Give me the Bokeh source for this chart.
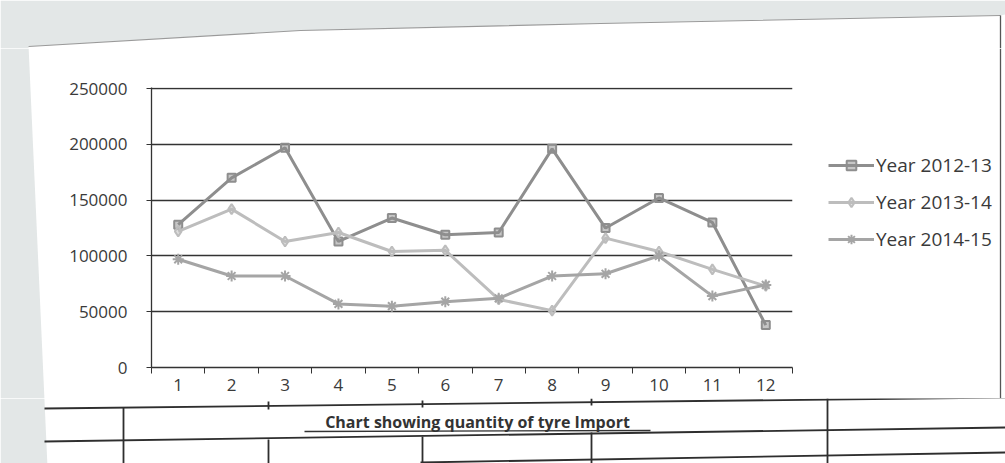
from bokeh.plotting import figure
from bokeh.models import (Range1d, FixedTicker, BasicTickFormatter, Legend, LegendItem)
from bokeh.layouts import column, row
from bokeh.embed import file_html
from bokeh.resources import INLINE
from bokeh.core.properties import value

# ---------------- data ----------------
months = [1, 2, 3, 4, 5, 6, 7, 8, 9, 10, 11, 12]
month_labels = ["1", "2", "3", "4", "5", "6", "7", "8", "9", "10", "11", "12"]
year_2012_13 = [128000, 170000, 197000, 113000, 134000, 119000, 121000, 196000, 125000, 152000, 130000, 38000]
year_2013_14 = [122000, 142000, 113000, 121000, 104000, 105000, 61000, 51000, 116000, 104000, 88000, 73000]
year_2014_15 = [97000, 82000, 82000, 57000, 55000, 59000, 62000, 82000, 84000, 100000, 64000, 74000]
series_names = ["Year 2012-13", "Year 2013-14", "Year 2014-15"]
y_ticks = [0, 50000, 100000, 150000, 200000, 250000]
chart_title = "Chart showing quantity of tyre Import"

# ---------------- styles ----------------
FONT = "Open Sans"
TXT = "#3a3a3a"
GRID = "#333333"
SCAN_BG = "#e3e7e7"
series_colors = ["#8e8e8e", "#bdbdbd", "#a5a5a5"]
series_markers = ["square", "diamond", "asterisk"]
series_sizes = [8, 10, 11]


def deco_fig(w, h, xr, yr):
    f = figure(width=w, height=h, x_range=Range1d(*xr), y_range=Range1d(*yr),
               output_backend="svg", toolbar_location=None,
               min_border_left=0, min_border_right=0, min_border_top=0, min_border_bottom=0)
    f.frame_align = False
    f.axis.visible = False
    f.grid.grid_line_color = None
    f.outline_line_color = None
    f.background_fill_color = "white"
    f.border_fill_color = "white"
    return f


def edge_x(y):
    # left edge of the scanned sheet
    return 26 + 0.045 * y


TOP_H, MID_BOTTOM = 48, 398

# ---------------- top strip (scan background) ----------------
top = deco_fig(1005, TOP_H, (0, 1005), (TOP_H, 0))
top.patch(x=[0, 1005, 1005, 1000, 600, 300, edge_x(46), edge_x(TOP_H), 0],
          y=[0, 0, 14, 15, 23, 30, 46, TOP_H, TOP_H],
          fill_color=SCAN_BG, line_color=None)
top.line(x=[edge_x(46), 300, 600, 1000], y=[46, 30, 23, 15], line_color="#9a9a9a", line_width=1.2)
top.segment(x0=[1000], y0=[15], x1=[1000], y1=[TOP_H], line_color="#555555", line_width=1.3)

# ---------------- left strip ----------------
LEFT_W = 45
left = deco_fig(LEFT_W, MID_BOTTOM - TOP_H, (0, LEFT_W), (MID_BOTTOM, TOP_H))
left.patch(x=[0, edge_x(TOP_H), edge_x(MID_BOTTOM), 0],
           y=[TOP_H, TOP_H, MID_BOTTOM, MID_BOTTOM],
           fill_color=SCAN_BG, line_color=None)

# ---------------- main chart ----------------
p = figure(width=816 - LEFT_W, height=MID_BOTTOM - TOP_H,
           x_range=Range1d(0.5, 12.5), y_range=Range1d(0, 251000),
           output_backend="svg", toolbar_location=None,
           min_border_left=151 - LEFT_W, min_border_right=24,
           min_border_top=87 - TOP_H, min_border_bottom=MID_BOTTOM - 367)
p.frame_align = False
p.outline_line_color = None
p.background_fill_color = "white"
p.border_fill_color = "white"

p.xaxis.ticker = FixedTicker(ticks=months, minor_ticks=[m - 0.5 for m in months] + [12.5])
p.xaxis.major_label_overrides = {m: lab for m, lab in zip(months, month_labels)}
p.xaxis.major_tick_line_color = None
p.xaxis.major_tick_out = 5
p.xaxis.major_tick_in = 0
p.xaxis.minor_tick_line_color = GRID
p.xaxis.minor_tick_out = 6
p.xaxis.minor_tick_in = 0
p.xaxis.major_label_standoff = 5
p.xaxis.axis_line_color = GRID
p.xaxis.axis_line_width = 1.3

p.yaxis.ticker = FixedTicker(ticks=y_ticks)
p.yaxis.formatter = BasicTickFormatter(use_scientific=False)
p.yaxis.major_tick_out = 5
p.yaxis.major_tick_in = 0
p.yaxis.major_tick_line_color = GRID
p.yaxis.minor_tick_line_color = None
p.yaxis.major_label_standoff = 19
p.yaxis.axis_line_color = GRID
p.yaxis.axis_line_width = 1.3

for ax in (p.xaxis, p.yaxis):
    ax.major_label_text_font = FONT
    ax.major_label_text_font_size = "17px"
    ax.major_label_text_color = TXT

p.xgrid.grid_line_color = None
p.ygrid.ticker = FixedTicker(ticks=y_ticks)
p.ygrid.grid_line_color = GRID
p.ygrid.grid_line_width = 1.3

for vals, col, mk, sz in zip([year_2012_13, year_2013_14, year_2014_15],
                             series_colors, series_markers, series_sizes):
    p.line(months, vals, line_color=col, line_width=3)
    p.scatter(months, vals, marker=mk, size=sz, fill_color=col,
              line_color=col, line_width=2, fill_alpha=0.5)

# ---------------- legend panel to the right ----------------
lg = deco_fig(1005 - 816, MID_BOTTOM - TOP_H, (816, 1005), (MID_BOTTOM, TOP_H))
lg.segment(x0=[1000], y0=[TOP_H], x1=[1000], y1=[MID_BOTTOM], line_color="#555555", line_width=1.3)

items = []
for name, col, mk, sz in zip(series_names, series_colors, series_markers, series_sizes):
    # sample renderers kept outside the visible range; only their style is used
    lr = lg.line(x=[0, 1], y=[0, 1], line_color=col, line_width=3)
    sr = lg.scatter(x=[0], y=[0], marker=mk, size=sz, fill_color=col,
                    line_color=col, line_width=2, fill_alpha=0.5)
    items.append(LegendItem(label=name, renderers=[lr, sr]))

legend = Legend(items=items, location=(12, 146),
                glyph_width=46, glyph_height=24, label_height=24,
                spacing=11, padding=0, margin=0, label_standoff=2,
                border_line_color=None, background_fill_alpha=0,
                label_text_font=FONT, label_text_font_size="19px",
                label_text_color=TXT)
lg.add_layout(legend, "center")

# ---------------- table below the chart ----------------
t = deco_fig(1005, 463 - MID_BOTTOM, (0, 1005), (463, MID_BOTTOM))
t.patch(x=[0, edge_x(MID_BOTTOM), edge_x(463), 0], y=[MID_BOTTOM, MID_BOTTOM, 463, 463],
        fill_color=SCAN_BG, line_color=None)
h_lines = [((44, 408), (1005, 397)), ((44, 441), (1005, 427)), ((420, 462), (1005, 452))]
v_lines = [((123, 407), (123, 463)), ((268, 401), (268, 409)), ((268, 439), (268, 463)),
           ((422, 400), (422, 407)), ((422, 436), (422, 463)),
           ((591, 398), (591, 405)), ((591, 432), (591, 463)),
           ((827, 398), (827, 463))]
segs = h_lines + v_lines
t.segment(x0=[a[0] for a, b in segs], y0=[a[1] for a, b in segs],
          x1=[b[0] for a, b in segs], y1=[b[1] for a, b in segs],
          line_color="#2e2e2e", line_width=1.8)

t.text(x=[477], y=[421], text=[chart_title],
       text_align="center", text_baseline="middle",
       text_font=value(FONT), text_font_style="bold",
       text_font_size="16px", text_color="#333333")
t.segment(x0=[304], y0=[431], x1=[650], y1=[430], line_color="#333333", line_width=1.3)

layout = column(top, row(left, p, lg, spacing=0), t, spacing=0)
open("out.html", "w").write(file_html(layout, INLINE))
